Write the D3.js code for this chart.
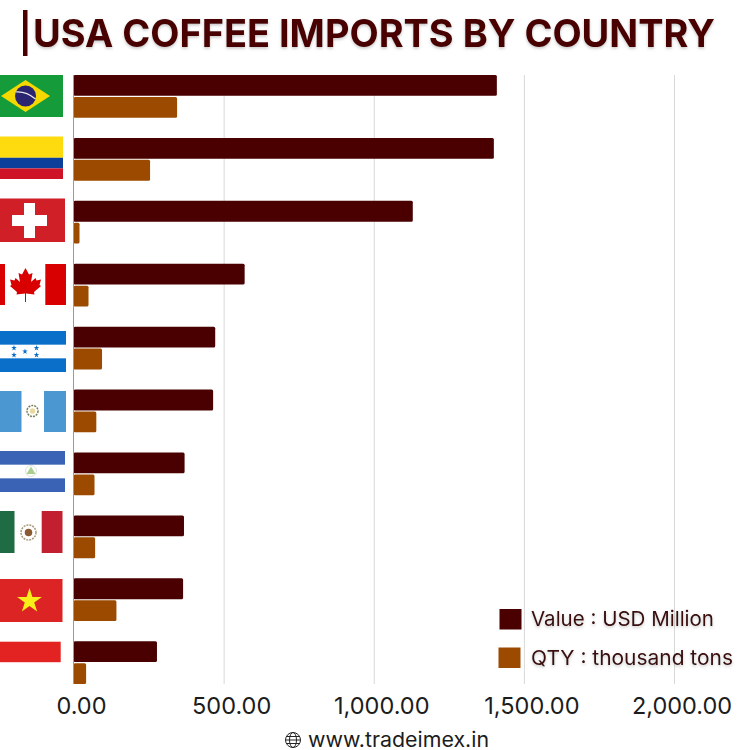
<!DOCTYPE html>
<html>
<head>
<meta charset="utf-8">
<script src="https://cdn.jsdelivr.net/npm/d3@7"></script>
<style>
  html, body { margin: 0; padding: 0; background: #fff; }
  text { font-family: Inter, "Open Sans", sans-serif; }
</style>
</head>
<body>
<div id="chart"></div>
<script>
const countries = ['Brazil', 'Colombia', 'Switzerland', 'Canada', 'Honduras', 'Guatemala', 'Nicaragua', 'Mexico', 'Vietnam', 'Indonesia'];
const valueUsd = [1410, 1400, 1130, 570, 472, 465, 370, 368, 365, 278];
const qtyTons = [345, 255, 20, 50, 95, 76, 70, 72, 143, 42];
const xTicks = [0, 500, 1000, 1500, 2000];
const seriesNames = ['Value : USD Million', 'QTY : thousand tons'];

const dimensions = { width: 750, height: 750, left: 73.5, right: 674, top: 75, bottom: 684 };
const dark = '#4a0000';
const orange = '#9c4a00';

const svg = d3.select('#chart')
  .append('svg')
  .attr('width', dimensions.width)
  .attr('height', dimensions.height)
  .style('display', 'block');

const defs = svg.append('defs');
defs.append('filter').attr('id', 'soft')
  .attr('x', '-5%').attr('y', '-30%').attr('width', '110%').attr('height', '170%')
  .append('feDropShadow')
  .attr('dx', 0).attr('dy', 1.5).attr('stdDeviation', 1.5)
  .attr('flood-color', '#555').attr('flood-opacity', 0.35);

// Scales
const xScale = d3.scaleLinear()
  .domain([0, 2000])
  .range([dimensions.left, dimensions.right]);

const yScale = d3.scaleBand()
  .domain(countries)
  .range([dimensions.top, dimensions.bottom])
  .paddingInner(0.32)
  .paddingOuter(0);

const subScale = d3.scaleBand()
  .domain(['value', 'qty'])
  .range([0, yScale.bandwidth()])
  .paddingInner(0.05);

// Gridlines
const grid = svg.append('g')
  .attr('transform', `translate(0, ${dimensions.bottom})`)
  .call(d3.axisBottom(xScale)
    .tickValues(xTicks.slice(1))
    .tickSize(-(dimensions.bottom - dimensions.top))
    .tickFormat(''));
grid.select('.domain').remove();
grid.selectAll('line').attr('stroke', '#d8d8d8').attr('stroke-width', 1);

// Tick labels, the picture has them a bit right of the gridlines
const xAxis = svg.append('g')
  .attr('transform', `translate(7.5, ${dimensions.bottom})`)
  .call(d3.axisBottom(xScale)
    .tickValues(xTicks)
    .tickSize(0)
    .tickPadding(13)
    .tickFormat(d3.format(',.2f')));
xAxis.select('.domain').remove();
xAxis.selectAll('text')
  .attr('fill', '#1c1c1c')
  .style('font-size', '23.5px');

// Flags
const flagBoxes = {
  Brazil: [75, 42, 63], Colombia: [136.5, 42.5, 63], Switzerland: [198.5, 43.5, 65],
  Canada: [264, 41, 66], Honduras: [331, 41, 66], Guatemala: [391, 41, 66],
  Nicaragua: [451, 41, 65], Mexico: [511, 42, 62.5], Vietnam: [579, 43, 62.5], Indonesia: [641.7, 41, 60.7]
};

const rect = (g, x, y, w, h, fill) => g.append('rect')
  .attr('x', x).attr('y', y).attr('width', w).attr('height', h).attr('fill', fill);

const star = (g, x, y, size, fill) => g.append('path')
  .attr('d', d3.symbol(d3.symbolStar, size))
  .attr('transform', `translate(${x}, ${y})`)
  .attr('fill', fill);

const emblem = (g, x, y, r, ring, inner) => {
  g.append('circle').attr('cx', x).attr('cy', y).attr('r', r)
    .attr('fill', 'none').attr('stroke', ring).attr('stroke-width', 1.5).attr('stroke-dasharray', '2 1');
  g.append('circle').attr('cx', x).attr('cy', y).attr('r', r * 0.5).attr('fill', inner);
};

const flagPainters = {
  Brazil: (g, w, h) => {
    rect(g, 0, 0, w, h, '#169b3a');
    g.append('path').attr('d', 'M1,21 L25.5,5 L50,21 L25.5,37 Z').attr('fill', '#f5d800');
    g.append('circle').attr('cx', 25.5).attr('cy', 21).attr('r', 10.5).attr('fill', '#2b2470');
    g.append('path').attr('d', 'M15.5,17 Q26,16 35.5,24').attr('fill', 'none').attr('stroke', '#e8e8e8').attr('stroke-width', 1.2);
  },
  Colombia: (g, w, h) => {
    rect(g, 0, 0, w, h * 0.5, '#fedb0e');
    rect(g, 0, h * 0.5, w, h * 0.25, '#0b3f99');
    rect(g, 0, h * 0.75, w, h * 0.25, '#ce1228');
  },
  Switzerland: (g, w, h) => {
    rect(g, 0, 0, w, h, '#d11f27');
    rect(g, 24, 4.5, 11, 35, '#fff');
    rect(g, 12, 16.5, 35, 11, '#fff');
  },
  Canada: (g, w, h) => {
    rect(g, 0, 0, 5, h, '#d80000');
    rect(g, 45.3, 0, w - 45.3, h, '#d80000');
    g.append('path')
      .attr('d', 'M25.5,4 L29,10.5 L32.5,9 L31,18 L35.5,14 L36.5,16.5 L41,15.5 L39.5,21 L41,22 L34,28 L34.5,30.5 L26,29.5 L26,38 L25,38 L25,29.5 L16.5,30.5 L17,28 L10,22 L11.5,21 L10,15.5 L14.5,16.5 L15.5,14 L20,18 L18.5,9 L22,10.5 Z')
      .attr('fill', '#d80000');
  },
  Honduras: (g, w, h) => {
    rect(g, 0, 0, w, h / 3, '#0a6fc9');
    rect(g, 0, h * 2 / 3, w, h / 3, '#0a6fc9');
    [[14, 17], [36.5, 17], [25, 20.5], [14, 24], [36.5, 24]]
      .forEach(d => star(g, d[0], d[1], 10, '#0a6fc9'));
  },
  Guatemala: (g, w, h) => {
    rect(g, 0, 0, 21.5, h, '#4a97d2');
    rect(g, 44, 0, w - 44, h, '#4a97d2');
    emblem(g, 32.5, 20, 5.5, '#76835a', '#e8d9a0');
  },
  Nicaragua: (g, w, h) => {
    rect(g, 0, 0, w, h / 3, '#3b63b5');
    rect(g, 0, h * 2 / 3, w, h / 3, '#3b63b5');
    g.append('circle').attr('cx', 31).attr('cy', 20).attr('r', 5.5)
      .attr('fill', 'none').attr('stroke', '#dfe2da').attr('stroke-width', 1);
    g.append('path').attr('d', 'M31,15.5 L35.5,23 L26.5,23 Z').attr('fill', '#a9cf8c');
  },
  Mexico: (g, w, h) => {
    rect(g, 0, 0, 14.5, h, '#1f6b43');
    rect(g, 41.7, 0, w - 41.7, h, '#c21f30');
    emblem(g, 28.5, 21.5, 7.5, '#a89a78', '#8a5a30');
  },
  Vietnam: (g, w, h) => {
    rect(g, 0, 0, w, h, '#dc2425');
    star(g, 29.5, 22, 190, '#f7ee1a');
  },
  Indonesia: (g, w, h) => {
    rect(g, 0, 0, w, h / 2, '#e32222');
  }
};

svg.append('g').selectAll('g')
  .data(countries)
  .join('g')
  .attr('transform', d => `translate(0, ${flagBoxes[d][0]})`)
  .each(function (d) {
    flagPainters[d](d3.select(this), flagBoxes[d][2], flagBoxes[d][1]);
  });

// Bars
const bars = svg.append('g');
bars.selectAll('rect.value')
  .data(countries)
  .join('rect')
  .attr('class', 'value')
  .attr('x', xScale(0))
  .attr('y', d => yScale(d) + subScale('value'))
  .attr('width', (d, i) => xScale(valueUsd[i]) - xScale(0))
  .attr('height', subScale.bandwidth())
  .attr('rx', 1.5)
  .attr('fill', dark);

bars.selectAll('rect.qty')
  .data(countries)
  .join('rect')
  .attr('class', 'qty')
  .attr('x', xScale(0))
  .attr('y', d => yScale(d) + subScale('qty'))
  .attr('width', (d, i) => xScale(qtyTons[i]) - xScale(0))
  .attr('height', subScale.bandwidth())
  .attr('rx', 1.5)
  .attr('fill', orange);

// Zero line
svg.append('line')
  .attr('x1', xScale(0)).attr('x2', xScale(0))
  .attr('y1', dimensions.top).attr('y2', dimensions.bottom)
  .attr('stroke', '#9a9a9a');

// Title
svg.append('rect')
  .attr('x', 23).attr('y', 10).attr('width', 4.5).attr('height', 46).attr('fill', dark);
svg.append('text')
  .attr('x', 33).attr('y', 46.5)
  .attr('textLength', 682)
  .attr('lengthAdjust', 'spacingAndGlyphs')
  .attr('fill', dark)
  .attr('filter', 'url(#soft)')
  .style('font-size', '38.5px')
  .style('font-weight', 700)
  .text('USA COFFEE IMPORTS BY COUNTRY');

// Legend
const legend = svg.append('g');
legend.selectAll('rect')
  .data(seriesNames)
  .join('rect')
  .attr('x', (d, i) => [499.5, 498.5][i])
  .attr('y', (d, i) => [609, 647.5][i])
  .attr('width', 22)
  .attr('height', 20.5)
  .attr('fill', (d, i) => [dark, orange][i]);
legend.selectAll('text')
  .data(seriesNames)
  .join('text')
  .attr('x', 531)
  .attr('y', (d, i) => [626, 664.5][i])
  .attr('textLength', (d, i) => [183, 202][i])
  .attr('lengthAdjust', 'spacingAndGlyphs')
  .attr('fill', '#3a1010')
  .attr('filter', 'url(#soft)')
  .style('font-size', '20.5px')
  .text(d => d);

// Footer
const globe = svg.append('g')
  .attr('transform', 'translate(293, 740)')
  .attr('fill', 'none')
  .attr('stroke', '#222')
  .attr('stroke-width', 1);
globe.append('circle').attr('r', 7.5);
globe.append('ellipse').attr('rx', 3.5).attr('ry', 7.5);
globe.append('line').attr('x1', -7.5).attr('x2', 7.5);
globe.append('line').attr('x1', -6.5).attr('x2', 6.5).attr('y1', -3.5).attr('y2', -3.5);
globe.append('line').attr('x1', -6.5).attr('x2', 6.5).attr('y1', 3.5).attr('y2', 3.5);

svg.append('text')
  .attr('x', 308).attr('y', 746.5)
  .attr('fill', '#1c1c1c')
  .style('font-size', '20.5px')
  .attr('textLength', 181)
  .attr('lengthAdjust', 'spacingAndGlyphs')
  .text('www.tradeimex.in');
</script>
</body>
</html>
